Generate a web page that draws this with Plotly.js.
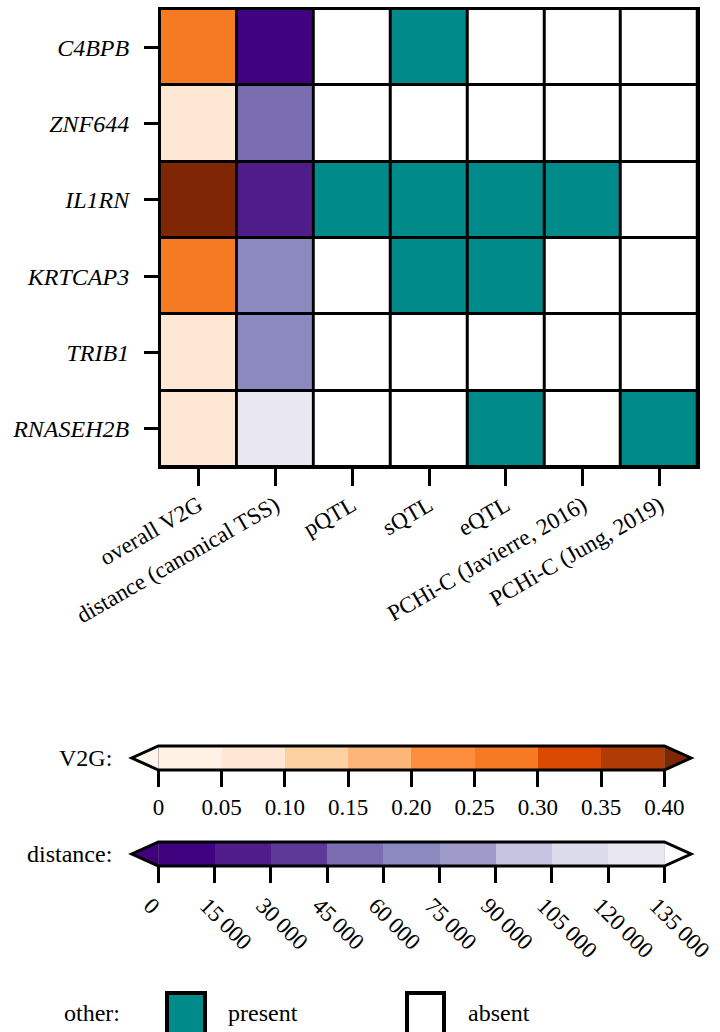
<!DOCTYPE html>
<html><head><meta charset="utf-8">
<script src="https://cdn.plot.ly/plotly-3.0.1.min.js"></script>
<style>html,body{margin:0;padding:0;background:#fff;} #chart{width:720px;height:1032px;}</style>
</head><body><div id="chart"></div>
<script>
// ---------- data ----------
const genes = ['C4BPB', 'ZNF644', 'IL1RN', 'KRTCAP3', 'TRIB1', 'RNASEH2B'];
const columns = ['overall V2G', 'distance (canonical TSS)', 'pQTL', 'sQTL', 'eQTL',
                 'PCHi-C (Javierre, 2016)', 'PCHi-C (Jung, 2019)'];
const v2g = [0.27, 0.07, 0.50, 0.27, 0.07, 0.07];
const distance = [7000, 53000, 22000, 67000, 66000, 128000];
const pqtl = [0, 0, 1, 0, 0, 0];
const sqtl = [1, 0, 1, 1, 0, 0];
const eqtl = [0, 0, 1, 1, 0, 1];
const pchicJavierre = [0, 0, 1, 0, 0, 0];
const pchicJung = [0, 0, 0, 0, 0, 1];

const v2gEdges = [0, 0.05, 0.10, 0.15, 0.20, 0.25, 0.30, 0.35, 0.40];
const v2gTickText = ['0', '0.05', '0.10', '0.15', '0.20', '0.25', '0.30', '0.35', '0.40'];
const distEdges = [0, 15000, 30000, 45000, 60000, 75000, 90000, 105000, 120000, 135000];
const distTickText = ['0', '15\u202f000', '30\u202f000', '45\u202f000', '60\u202f000', '75\u202f000',
                      '90\u202f000', '105\u202f000', '120\u202f000', '135\u202f000'];
const legendLabels = ['present', 'absent'];

// ---------- styles ----------
const v2gColors = ['#fff5eb', '#fff1e4', '#fee8d3', '#fdd0a2', '#fdb67a', '#fd8e3e',
                   '#f57a22', '#da4902', '#b13b05', '#7f2704'];
const distColors = ['#3f007d', '#41027f', '#4f1c8a', '#5e3a98', '#7a6eb0', '#8c89c0',
                    '#9e9bc9', '#c5c5e1', '#dcdbeb', '#e9e8f2', '#fcfbfd'];
const presentColor = '#008b8a';
const absentColor = '#ffffff';
const FONT = 'Liberation Serif, Times New Roman, serif';
const FS = 24;
const TFS = 23;

function discreteScale(colors) {
  const n = colors.length, cs = [];
  colors.forEach((c, i) => { cs.push([i / n, c]); cs.push([(i + 1) / n, c]); });
  return cs;
}
function extLimits(edges) {
  const step = edges[1] - edges[0];
  return [edges[0] - step, edges[edges.length - 1] + step];
}
function centers(edges) {
  const out = [];
  for (let i = 0; i < edges.length - 1; i++) out.push((edges[i] + edges[i + 1]) / 2);
  return out;
}

const colIdx = columns.map((c, i) => i);
const geneIdx = genes.map((g, i) => i);
const [v2gMin, v2gMax] = extLimits(v2gEdges);
const [distMin, distMax] = extLimits(distEdges);

const traces = [
  {
    type: 'heatmap', x: [colIdx[0]], y: geneIdx, z: v2g.map(v => [v]),
    colorscale: discreteScale(v2gColors), zmin: v2gMin, zmax: v2gMax,
    showscale: false, xgap: 3, ygap: 3, hoverinfo: 'skip', xaxis: 'x', yaxis: 'y'
  },
  {
    type: 'heatmap', x: [colIdx[1]], y: geneIdx, z: distance.map(v => [v]),
    colorscale: discreteScale(distColors), zmin: distMin, zmax: distMax,
    showscale: false, xgap: 3, ygap: 3, hoverinfo: 'skip', xaxis: 'x', yaxis: 'y'
  },
  {
    type: 'heatmap', x: colIdx.slice(2), y: geneIdx,
    z: genes.map((g, i) => [pqtl[i], sqtl[i], eqtl[i], pchicJavierre[i], pchicJung[i]]),
    colorscale: [[0, absentColor], [0.5, absentColor], [0.5, presentColor], [1, presentColor]],
    zmin: 0, zmax: 1, showscale: false, xgap: 3, ygap: 3, hoverinfo: 'skip', xaxis: 'x', yaxis: 'y'
  },
  {
    type: 'heatmap', x: centers(v2gEdges), y: [0], z: [centers(v2gEdges)],
    colorscale: discreteScale(v2gColors), zmin: v2gMin, zmax: v2gMax,
    showscale: false, hoverinfo: 'skip', xaxis: 'x2', yaxis: 'y2'
  },
  {
    type: 'heatmap', x: centers(distEdges), y: [0], z: [centers(distEdges)],
    colorscale: discreteScale(distColors), zmin: distMin, zmax: distMax,
    showscale: false, hoverinfo: 'skip', xaxis: 'x3', yaxis: 'y3'
  }
];

const W = 720, H = 1032;
const px = v => v / W;
const py = v => 1 - v / H;
const EXT = 0.0526;

function barShapes(xa, ya, colors) {
  const xr = xa + ' domain', yr = ya + ' domain';
  return [
    { type: 'path', xref: xr, yref: yr, path: `M 0,0 L ${-EXT},0.5 L 0,1 Z`,
      fillcolor: colors[0], line: { width: 0 }, layer: 'above' },
    { type: 'path', xref: xr, yref: yr, path: `M 1,0 L ${1 + EXT},0.5 L 1,1 Z`,
      fillcolor: colors[colors.length - 1], line: { width: 0 }, layer: 'above' },
    { type: 'path', xref: xr, yref: yr,
      path: `M 0,0 L 1,0 L ${1 + EXT},0.5 L 1,1 L 0,1 L ${-EXT},0.5 Z`,
      fillcolor: 'rgba(0,0,0,0)', line: { width: 3, color: '#000' }, layer: 'above' }
  ];
}

const tickFont = { family: FONT, size: TFS, color: '#000' };
const cbAxis = (dom, anchor, edges, text, angle, shift) => ({
  domain: dom, anchor: anchor, range: [edges[0], edges[edges.length - 1]],
  tickmode: 'array', tickvals: edges, ticktext: text, tickangle: angle,
  ticks: 'outside', ticklen: 16, tickwidth: 3, tickcolor: '#000', ticklabeloverflow: 'allow',
  ticklabelshift: shift,
  tickfont: tickFont, showline: false, showgrid: false, zeroline: false, fixedrange: true
});

const layout = {
  width: W, height: H,
  margin: { l: 0, r: 0, t: 0, b: 0 },
  paper_bgcolor: '#ffffff', plot_bgcolor: '#000000',
  showlegend: false,
  font: { family: FONT, size: FS, color: '#000' },
  xaxis: {
    domain: [px(160), px(698)], anchor: 'y', range: [-0.5, columns.length - 0.5],
    tickmode: 'array', tickvals: colIdx, ticktext: columns,
    ticks: 'outside', ticklen: 17, tickwidth: 3, tickcolor: '#000', tickangle: -30,
    ticklabeloverflow: 'allow', ticklabelstandoff: -3,
    tickfont: tickFont, showline: true, linewidth: 2, linecolor: '#000', mirror: true,
    showgrid: false, zeroline: false, fixedrange: true
  },
  yaxis: {
    domain: [py(467), py(9)], anchor: 'x', range: [genes.length - 0.5, -0.5],
    tickmode: 'array', tickvals: geneIdx, ticktext: genes,
    ticks: 'outside', ticklen: 14, tickwidth: 3, tickcolor: '#000',
    tickfont: { family: FONT, size: FS, color: '#000', style: 'italic' },
    ticklabelstandoff: 10,
    showline: true, linewidth: 2, linecolor: '#000', mirror: true,
    showgrid: false, zeroline: false, fixedrange: true
  },
  xaxis2: cbAxis([px(158.4), px(664.4)], 'y2', v2gEdges, v2gTickText, 0, 0),
  yaxis2: { domain: [py(770), py(746)], anchor: 'x2', range: [-0.5, 0.5], visible: false, fixedrange: true },
  xaxis3: cbAxis([px(158.4), px(664.4)], 'y3', distEdges, distTickText, 45, -8),
  yaxis3: { domain: [py(866), py(842)], anchor: 'x3', range: [-0.5, 0.5], visible: false, fixedrange: true },
  shapes: [
    ...barShapes('x2', 'y2', v2gColors),
    ...barShapes('x3', 'y3', distColors),
    { type: 'rect', xref: 'paper', yref: 'paper', x0: px(167), x1: px(205), y0: py(993), y1: py(1040),
      fillcolor: presentColor, line: { width: 4, color: '#000' } },
    { type: 'rect', xref: 'paper', yref: 'paper', x0: px(407), x1: px(444), y0: py(993), y1: py(1040),
      fillcolor: absentColor, line: { width: 4, color: '#000' } }
  ],
  annotations: [
    { text: 'V2G:', xref: 'paper', yref: 'paper', x: px(114), y: py(758), xanchor: 'right', yanchor: 'middle', showarrow: false },
    { text: 'distance:', xref: 'paper', yref: 'paper', x: px(114), y: py(854), xanchor: 'right', yanchor: 'middle', showarrow: false },
    { text: 'other:', xref: 'paper', yref: 'paper', x: px(122), y: py(1013), xanchor: 'right', yanchor: 'middle', showarrow: false },
    { text: legendLabels[0], xref: 'paper', yref: 'paper', x: px(226), y: py(1013), xanchor: 'left', yanchor: 'middle', showarrow: false },
    { text: legendLabels[1], xref: 'paper', yref: 'paper', x: px(466), y: py(1013), xanchor: 'left', yanchor: 'middle', showarrow: false }
  ]
};

Plotly.newPlot('chart', traces, layout, { staticPlot: true, displayModeBar: false });
</script>
</body></html>
